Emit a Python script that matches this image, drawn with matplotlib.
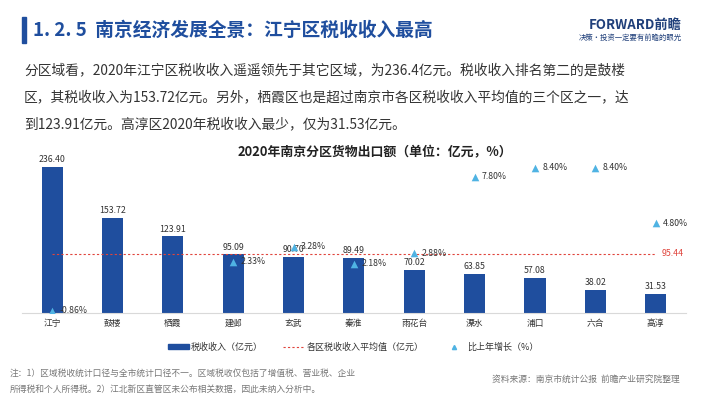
import numpy as np
import matplotlib.pyplot as plt
from matplotlib.lines import Line2D
from matplotlib.patches import Patch

plt.rcParams['font.family'] = ['Noto Sans CJK SC', 'DejaVu Sans']

districts = ["江宁", "鼓楼", "栖霞", "建邺", "玄武", "秦淮", "雨花台", "溧水", "浦口", "六合", "高淳"]
tax_income = [236.40, 153.72, 123.91, 95.09, 90.70, 89.49, 70.02, 63.85, 57.08, 38.02, 31.53]
# growth vs last year (%), None where not published
growth = [-0.86, None, None, 2.33, 3.28, 2.18, 2.88, 7.80, 8.40, 8.40, 4.80]
avg_income = 95.44

paragraph = [
    "分区域看，2020年江宁区税收收入遥遥领先于其它区域，为236.4亿元。税收收入排名第二的是鼓楼",
    "区，其税收收入为153.72亿元。另外，栖霞区也是超过南京市各区税收收入平均值的三个区之一，达",
    "到123.91亿元。高淳区2020年税收收入最少，仅为31.53亿元。",
]
notes = [
    "注：1）区域税收统计口径与全市统计口径不一。区域税收仅包括了增值税、营业税、企业",
    "所得税和个人所得税。2）江北新区直管区未公布相关数据，因此未纳入分析中。",
]
source = "资料来源：南京市统计公报  前瞻产业研究院整理"

BAR_COLOR = "#1f4e9e"
TRI_COLOR = "#4fb3e3"
AVG_COLOR = "#e0443c"
TEXT_COLOR = "#333333"

fig = plt.figure(figsize=(7.10, 3.99), dpi=100)

# header
fig.patches.append(plt.Rectangle((0.031, 0.893), 0.005, 0.065, transform=fig.transFigure,
                                 color=BAR_COLOR, figure=fig))
fig.text(0.046, 0.925, "1. 2. 5  南京经济发展全景：江宁区税收收入最高", fontsize=13.5,
         fontweight="bold", color=BAR_COLOR, va="center")
fig.text(0.96, 0.937, "FORWARD前瞻", fontsize=9.5, fontweight="bold", color="#1f3f7a",
         ha="right", va="center")
fig.text(0.96, 0.905, "决策·投资一定要有前瞻的眼光", fontsize=5.3, color="#1f3f7a",
         ha="right", va="center")

for i, line in enumerate(paragraph):
    fig.text(0.034, 0.823 - i * 0.067, line, fontsize=9.9, color=TEXT_COLOR, va="center")

ax = fig.add_axes([0.031, 0.2155, 0.935, 0.3875])
x = np.arange(len(districts))
ax.bar(x, tax_income, width=0.35, color=BAR_COLOR, zorder=2)
for xi, v in zip(x, tax_income):
    ax.text(xi, v + 4, f"{v:.2f}", ha="center", va="bottom", fontsize=6.3, color=TEXT_COLOR)

ax.plot(x, [avg_income] * len(x), linestyle=(0, (2, 2)), color=AVG_COLOR, linewidth=0.8, zorder=3)
ax.text(x[-1] + 0.1, avg_income, f"{avg_income:.2f}", color=AVG_COLOR, fontsize=6.3,
        ha="left", va="center")

ax.set_xlim(-0.5, len(x) - 0.5)
ax.set_ylim(0, 250)
ax.set_yticks([])
ax.set_xticks(x)
ax.set_xticklabels(districts, fontsize=6.3, color=TEXT_COLOR)
ax.tick_params(axis="x", length=0, pad=4)
for s in ["top", "right", "left"]:
    ax.spines[s].set_visible(False)
ax.spines["bottom"].set_color("#d9d9d9")
ax.patch.set_alpha(0)

ax2 = ax.twinx()
gx = [xi for xi, g in zip(x, growth) if g is not None]
gy = [g for g in growth if g is not None]
ax2.scatter(gx, gy, marker="^", s=30, color=TRI_COLOR, zorder=4, linewidths=0)
for xi, g in zip(gx, gy):
    ax2.text(xi + 0.12, g, f"{g:.2f}%", fontsize=6.3, color=TEXT_COLOR, ha="left", va="center")
ax2.set_ylim(-1, 9)
ax2.set_yticks([])
for s in ax2.spines.values():
    s.set_visible(False)

fig.text(0.528, 0.618, "2020年南京分区货物出口额（单位：亿元，%）", fontsize=9.3,
         fontweight="bold", color="#222222", ha="center", va="center")

handles = [
    Patch(color=BAR_COLOR, label="税收收入（亿元）"),
    Line2D([], [], color=AVG_COLOR, linestyle=(0, (2, 2)), linewidth=0.8,
           label="各区税收收入平均值（亿元）"),
    Line2D([], [], marker="^", color=TRI_COLOR, linestyle="none", markersize=3,
           label="比上年增长（%）"),
]
fig.legend(handles=handles, loc="center", bbox_to_anchor=(0.497, 0.13), ncol=3, frameon=False,
           fontsize=6.5, handlelength=2.4, handleheight=0.45, handletextpad=0.2,
           columnspacing=2.2, labelcolor=TEXT_COLOR)

for i, line in enumerate(notes):
    fig.text(0.014, 0.065 - i * 0.04, line, fontsize=6.3, color="#777777", va="center")
fig.text(0.958, 0.048, source, fontsize=6.3, color="#777777", ha="right", va="center")

fig.savefig("out.png", dpi=100)
